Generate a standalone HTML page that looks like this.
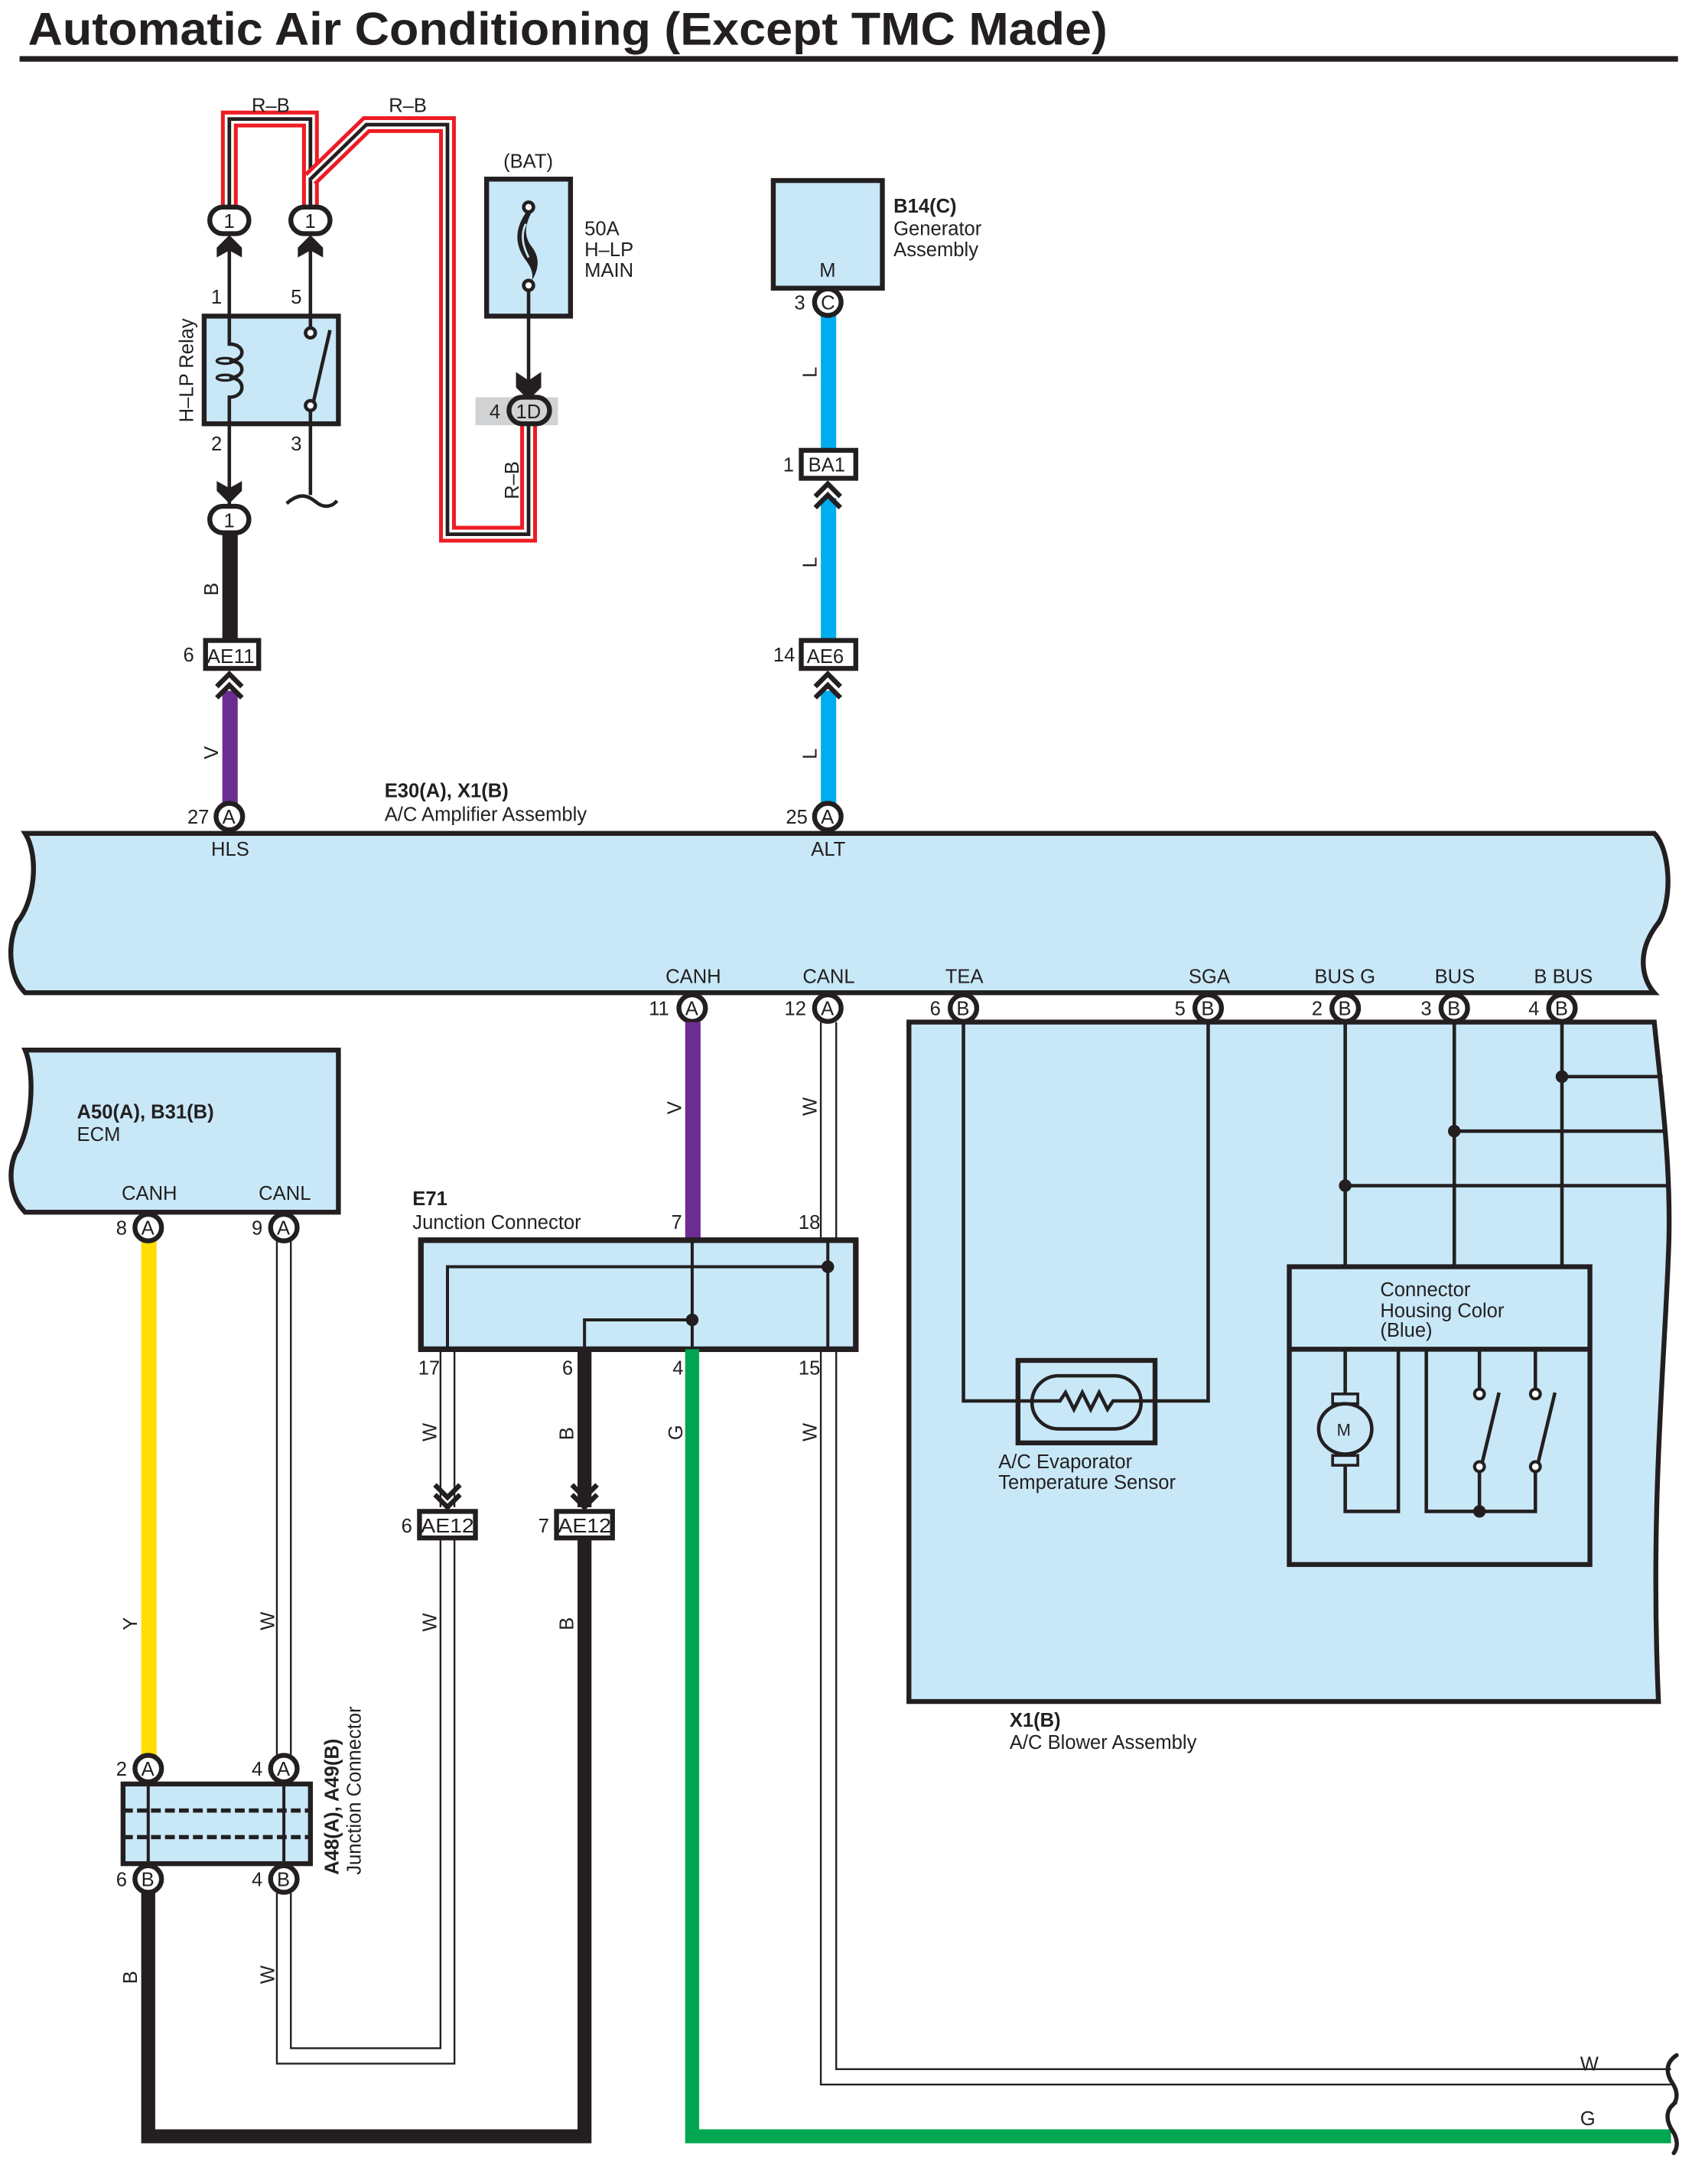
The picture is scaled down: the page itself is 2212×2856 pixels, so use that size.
<!DOCTYPE html>
<html><head><meta charset="utf-8"><style>
html,body{margin:0;padding:0;background:#fff;}
svg{display:block;}
text{font-family:"Liberation Sans",sans-serif;fill:#231f20;}
</style></head><body>
<svg width="2212" height="2856" viewBox="0 0 1210 1562" xmlns="http://www.w3.org/2000/svg">
<defs>
<style>
.lb{font-size:14px;}
.bd{font-size:14px;font-weight:bold;}
.pn{font-size:14px;}
.k{stroke:#231f20;fill:none;}
.box{fill:#c8e8f8;stroke:#231f20;stroke-width:3.5;}
</style>
</defs>
<!-- Title -->
<text x="20" y="32" font-size="33" font-weight="bold" textLength="772" lengthAdjust="spacingAndGlyphs">Automatic Air Conditioning (Except TMC Made)</text>
<rect x="14" y="40" width="1186" height="4" fill="#231f20"/>

<!-- R-B wires -->
<g fill="none" stroke-linejoin="miter">
<path d="M164,148 V85 H222 V148" stroke="#ed1c24" stroke-width="12"/>
<path d="M164,148 V85 H222 V148" stroke="#fff" stroke-width="6.5"/>
<path d="M164,148 V85 H222 V148" stroke="#231f20" stroke-width="2.6"/>
<path d="M222,128 L262,89 H320 V382 H378 V302" stroke="#ed1c24" stroke-width="12"/>
<path d="M222,128 L262,89 H320 V382 H378 V302" stroke="#fff" stroke-width="6.5"/>
<path d="M222,128 L262,89 H320 V382 H378 V302" stroke="#231f20" stroke-width="2.6"/>
</g>
<text class="lb" x="180" y="80">R–B</text>
<text class="lb" x="278" y="80">R–B</text>
<text class="lb" transform="translate(371,357) rotate(-90)">R–B</text>

<!-- relay connector ovals -->
<g stroke="#231f20" stroke-width="3.5" fill="#fff">
<rect x="150" y="148" width="28" height="19" rx="9.5"/>
<rect x="208" y="148" width="28" height="19" rx="9.5"/>
<rect x="150" y="362" width="28" height="19" rx="9.5"/>
</g>
<text class="pn" x="160" y="163">1</text>
<text class="pn" x="218" y="163">1</text>
<text class="pn" x="160" y="377">1</text>
<!-- up arrowheads -->
<g fill="#231f20">
<polygon points="164,168 173,177 173,184 164,179 155,184 155,177"/>
<polygon points="222,168 231,177 231,184 222,179 213,184 213,177"/>
<polygon points="164,360 173,351 173,344 164,349 155,344 155,351"/>
</g>
<!-- relay -->
<path class="k" stroke-width="2.5" d="M164,178 V362 M222,178 V238"/>
<rect class="box" x="146" y="226" width="96" height="77"/>
<path class="k" stroke-width="2.5" d="M164,226 V246 C176,246 176,258 164,258 C176,258 176,270 164,270 C176,270 176,284 164,284 V303"/>
<ellipse cx="161" cy="258" rx="6" ry="2" class="k" stroke-width="1.8"/>
<ellipse cx="161" cy="270" rx="6" ry="2" class="k" stroke-width="1.8"/>
<path class="k" stroke-width="2.5" d="M222,226 V236 M224,288 L236,236 M222,293 V354"/>
<circle cx="222" cy="238" r="3.5" fill="#fff" stroke="#231f20" stroke-width="2.5"/>
<circle cx="222" cy="290" r="3.5" fill="#fff" stroke="#231f20" stroke-width="2.5"/>
<path class="k" stroke-width="2.5" d="M205,360 C214,352 220,354 226,359 C232,364 238,362 241,358"/>
<text class="pn" x="151" y="217">1</text>
<text class="pn" x="208" y="217">5</text>
<text class="pn" x="151" y="322">2</text>
<text class="pn" x="208" y="322">3</text>
<text class="lb" transform="translate(138,302) rotate(-90)">H–LP Relay</text>

<!-- B wire + AE11 -->
<rect x="159" y="381" width="11" height="77" fill="#231f20"/>
<text class="lb" transform="translate(156,426) rotate(-90)">B</text>
<rect x="147" y="458" width="38" height="20" fill="#fff" stroke="#231f20" stroke-width="3.5"/>
<text class="pn" x="148" y="474" textLength="34" lengthAdjust="spacingAndGlyphs">AE11</text>
<text class="pn" x="131" y="473">6</text>
<rect x="159" y="494" width="11" height="82" fill="#6c2c91"/>
<path class="k" stroke-width="3.5" d="M155,491 L164,482 L173,491 M155,499 L164,490 L173,499"/>
<text class="lb" transform="translate(156,543) rotate(-90)">V</text>

<!-- BAT fuse -->
<text class="lb" x="360" y="120">(BAT)</text>
<rect class="box" x="348" y="128" width="60" height="98"/>
<path d="M376,152 C368,164 368,175 376,186 C382,194 382,200 378,204 C384,196 388,186 380,176 C374,168 376,160 380,152 Z" fill="#231f20"/>
<path d="M376,160 C372,168 374,176 378,184" stroke="#c8e8f8" stroke-width="1.5" fill="none"/>
<circle cx="378" cy="148" r="3.5" fill="#fff" stroke="#231f20" stroke-width="2.5"/>
<circle cx="378" cy="204" r="3.5" fill="#fff" stroke="#231f20" stroke-width="2.5"/>
<path class="k" stroke-width="2.5" d="M378,208 V272"/>
<polygon points="378,286 369,277 369,266 378,272 387,266 387,277" fill="#231f20"/>
<text class="lb" x="418" y="168">50A</text>
<text class="lb" x="418" y="183">H–LP</text>
<text class="lb" x="418" y="198">MAIN</text>
<rect x="340" y="284" width="59" height="20" fill="#d1d2d4"/>
<rect x="364" y="284" width="29" height="19" rx="9.5" fill="#d1d2d4" stroke="#231f20" stroke-width="3.5"/>
<text class="pn" x="369" y="299">1D</text>
<text class="pn" x="350" y="299">4</text>

<!-- Generator -->
<rect class="box" x="553" y="129" width="78" height="77"/>
<text class="lb" x="586" y="198">M</text>
<text class="bd" x="639" y="152">B14(C)</text>
<text class="lb" x="639" y="168">Generator</text>
<text class="lb" x="639" y="183">Assembly</text>
<rect x="587" y="225" width="11" height="97" fill="#00aeef"/>
<circle cx="592" cy="216" r="9.5" fill="#fff" stroke="#231f20" stroke-width="3.5"/>
<text class="pn" x="587" y="221">C</text>
<text class="pn" x="568" y="221">3</text>
<text class="lb" transform="translate(584,270) rotate(-90)">L</text>
<rect x="573" y="322" width="39" height="20" fill="#fff" stroke="#231f20" stroke-width="3.5"/>
<text class="pn" x="578" y="337">BA1</text>
<text class="pn" x="560" y="337">1</text>
<rect x="587" y="356" width="11" height="102" fill="#00aeef"/>
<path class="k" stroke-width="3.5" d="M583,355 L592,346 L601,355 M583,363 L592,354 L601,363"/>
<text class="lb" transform="translate(584,406) rotate(-90)">L</text>
<rect x="573" y="458" width="39" height="20" fill="#fff" stroke="#231f20" stroke-width="3.5"/>
<text class="pn" x="577" y="474">AE6</text>
<text class="pn" x="553" y="473">14</text>
<rect x="587" y="494" width="11" height="82" fill="#00aeef"/>
<path class="k" stroke-width="3.5" d="M583,491 L592,482 L601,491 M583,499 L592,490 L601,499"/>
<text class="lb" transform="translate(584,543) rotate(-90)">L</text>

<!-- Amplifier -->
<text class="bd" x="275" y="570">E30(A), X1(B)</text>
<text class="lb" x="275" y="587">A/C Amplifier Assembly</text>
<path class="box" d="M18,596 H1183 C1195,608 1196,645 1186,660 C1170,680 1174,700 1183,710 H18 C8,700 4,680 12,660 C25,645 28,612 18,596 Z"/>
<circle cx="164" cy="584" r="9.5" fill="#fff" stroke="#231f20" stroke-width="3.5"/>
<text class="pn" x="159" y="589">A</text>
<text class="pn" x="134" y="589">27</text>
<circle cx="592" cy="584" r="9.5" fill="#fff" stroke="#231f20" stroke-width="3.5"/>
<text class="pn" x="587" y="589">A</text>
<text class="pn" x="562" y="589">25</text>
<text class="lb" x="151" y="612">HLS</text>
<text class="lb" x="580" y="612">ALT</text>
<text class="lb" x="476" y="703">CANH</text>
<text class="lb" x="574" y="703">CANL</text>
<text class="lb" x="676" y="703">TEA</text>
<text class="lb" x="850" y="703">SGA</text>
<text class="lb" x="940" y="703">BUS G</text>
<text class="lb" x="1026" y="703">BUS</text>
<text class="lb" x="1097" y="703">B BUS</text>

<!-- Blower assembly -->
<path class="box" d="M650,731 H1183 C1188,780 1196,840 1193,900 C1190,980 1180,1080 1186,1217 H650 Z"/>
<text class="bd" x="722" y="1235">X1(B)</text>
<text class="lb" x="722" y="1251">A/C Blower Assembly</text>
<!-- sensor -->
<path class="k" stroke-width="2.5" d="M689,731 V1002 H864 V731"/>
<rect x="728" y="973" width="98" height="59" fill="#c8e8f8" stroke="#231f20" stroke-width="3.5"/>
<rect x="738" y="984" width="78" height="38" rx="19" fill="#c8e8f8" stroke="#231f20" stroke-width="2.5"/>
<path class="k" stroke-width="2.5" d="M728,1002 H758 L762,996 L768,1008 L774,996 L780,1008 L786,996 L792,1008 L796,1002 H826"/>
<text class="lb" x="714" y="1050">A/C Evaporator</text>
<text class="lb" x="714" y="1065">Temperature Sensor</text>
<!-- bus -->
<path class="k" stroke-width="2.5" d="M962,731 V906 M1040,731 V906 M1117,731 V906 M962,848 H1193 M1040,809 H1191 M1117,770 H1189"/>
<circle cx="962" cy="848" r="4.5" fill="#231f20"/>
<circle cx="1040" cy="809" r="4.5" fill="#231f20"/>
<circle cx="1117" cy="770" r="4.5" fill="#231f20"/>
<rect x="922" y="906" width="215" height="213" fill="#c8e8f8" stroke="#231f20" stroke-width="3.5"/>
<path class="k" stroke-width="3.5" d="M922,965 H1137"/>
<text class="lb" x="987" y="927">Connector</text>
<text class="lb" x="987" y="942">Housing Color</text>
<text class="lb" x="987" y="956">(Blue)</text>
<path class="k" stroke-width="2.5" d="M962,965 V1000 M962,1044 V1081 H1000 V965 M1020,965 V1081 H1098 V1052 M1058,965 V993 M1098,965 V993 M1058,1052 V1081 M1060,1046 L1072,996 M1100,1046 L1112,996"/>
<rect x="953" y="997" width="18" height="7" fill="#c8e8f8" stroke="#231f20" stroke-width="2"/>
<rect x="953" y="1041" width="18" height="7" fill="#c8e8f8" stroke="#231f20" stroke-width="2"/>
<ellipse cx="962" cy="1022" rx="19" ry="18" fill="#c8e8f8" stroke="#231f20" stroke-width="2.5"/>
<text x="956" y="1027" font-size="12">M</text>
<g fill="#fff" stroke="#231f20" stroke-width="2.2">
<circle cx="1058" cy="997" r="3.5"/><circle cx="1058" cy="1049" r="3.5"/>
<circle cx="1098" cy="997" r="3.5"/><circle cx="1098" cy="1049" r="3.5"/>
</g>
<circle cx="1058" cy="1081" r="4.5" fill="#231f20"/>
<!-- pins on amplifier bottom -->
<g fill="#fff" stroke="#231f20" stroke-width="3.5">
<circle cx="495" cy="721" r="9.5"/><circle cx="592" cy="721" r="9.5"/>
<circle cx="689" cy="721" r="9.5"/><circle cx="864" cy="721" r="9.5"/>
<circle cx="962" cy="721" r="9.5"/><circle cx="1040" cy="721" r="9.5"/>
<circle cx="1117" cy="721" r="9.5"/>
</g>
<text class="pn" x="490" y="726">A</text><text class="pn" x="464" y="726">11</text>
<text class="pn" x="587" y="726">A</text><text class="pn" x="561" y="726">12</text>
<text class="pn" x="684" y="726">B</text><text class="pn" x="665" y="726">6</text>
<text class="pn" x="859" y="726">B</text><text class="pn" x="840" y="726">5</text>
<text class="pn" x="957" y="726">B</text><text class="pn" x="938" y="726">2</text>
<text class="pn" x="1035" y="726">B</text><text class="pn" x="1016" y="726">3</text>
<text class="pn" x="1112" y="726">B</text><text class="pn" x="1093" y="726">4</text>

<!-- CANH purple -->
<rect x="490" y="731" width="11" height="156" fill="#6c2c91"/>
<text class="lb" transform="translate(487,797) rotate(-90)">V</text>
<!-- CANL W wire -->
<path class="k" stroke-width="1.3" d="M587,731 V886 M598,731 V886 M587,965 V1491 H1195 M598,965 V1480 H1195"/>
<text class="lb" transform="translate(584,798) rotate(-90)">W</text>
<text class="lb" transform="translate(584,1031) rotate(-90)">W</text>
<text class="lb" x="1130" y="1481">W</text>
<text class="lb" x="1130" y="1520">G</text>

<!-- E71 -->
<text class="bd" x="295" y="862">E71</text>
<text class="lb" x="295" y="879">Junction Connector</text>
<text class="pn" x="480" y="879">7</text>
<text class="pn" x="571" y="879">18</text>
<rect x="301" y="887" width="311" height="78" fill="#c8e8f8" stroke="#231f20" stroke-width="4"/>
<path class="k" stroke-width="2.2" d="M495,887 V965 M592,887 V965 M320,965 V906 H592 M418,965 V944 H495"/>
<circle cx="592" cy="906" r="4.5" fill="#231f20"/>
<circle cx="495" cy="944" r="4.5" fill="#231f20"/>
<text class="pn" x="299" y="983">17</text>
<text class="pn" x="402" y="983">6</text>
<text class="pn" x="481" y="983">4</text>
<text class="pn" x="571" y="983">15</text>
<!-- W 17 -->
<path class="k" stroke-width="1.3" d="M315,965 V1078 M325,965 V1078 M315,1100 V1465 H208 V1354 M325,1100 V1476 H198 V1354"/>
<path class="k" stroke-width="3.5" d="M311,1062 L320,1071 L329,1062 M311,1069 L320,1078 L329,1069"/>
<text class="lb" transform="translate(312,1031) rotate(-90)">W</text>
<text class="lb" transform="translate(312,1167) rotate(-90)">W</text>
<rect x="300" y="1081" width="40" height="19" fill="#fff" stroke="#231f20" stroke-width="3.5"/>
<text class="pn" x="301" y="1096" textLength="38" lengthAdjust="spacingAndGlyphs">AE12</text>
<text class="pn" x="287" y="1096">6</text>
<!-- B 6 -->
<path d="M418,965 V1078 M418,1100 V1528 H106 V1354" stroke="#231f20" stroke-width="10" fill="none" stroke-linejoin="miter"/>
<path class="k" stroke-width="3.5" d="M409,1062 L418,1071 L427,1062 M409,1069 L418,1078 L427,1069"/>
<text class="lb" transform="translate(410,1030) rotate(-90)">B</text>
<text class="lb" transform="translate(410,1166) rotate(-90)">B</text>
<rect x="398" y="1081" width="40" height="19" fill="#fff" stroke="#231f20" stroke-width="3.5"/>
<text class="pn" x="399" y="1096" textLength="38" lengthAdjust="spacingAndGlyphs">AE12</text>
<text class="pn" x="385" y="1096">7</text>
<!-- G -->
<path d="M495,965 V1528 H1195" stroke="#00a651" stroke-width="10" fill="none" stroke-linejoin="miter"/>
<text class="lb" transform="translate(488,1030) rotate(-90)">G</text>
<!-- squiggles -->
<path class="k" stroke-width="3" stroke-linecap="round" d="M1199,1470 C1190,1476 1192,1484 1196,1490 C1200,1496 1200,1502 1196,1506 M1198,1504 C1190,1510 1192,1518 1196,1524 C1200,1530 1200,1536 1197,1540"/>

<!-- ECM -->
<path class="box" d="M18,751 H242 V867 H18 C8,857 5,840 11,825 C22,810 26,770 18,751 Z"/>
<text class="bd" x="55" y="800">A50(A), B31(B)</text>
<text class="lb" x="55" y="816">ECM</text>
<text class="lb" x="87" y="858">CANH</text>
<text class="lb" x="185" y="858">CANL</text>
<rect x="101" y="887" width="11" height="369" fill="#ffde00"/>
<path class="k" stroke-width="1.3" d="M198,887 V1255 M208,887 V1255"/>
<text class="lb" transform="translate(98,1166) rotate(-90)">Y</text>
<text class="lb" transform="translate(196,1166) rotate(-90)">W</text>
<text class="lb" transform="translate(98,1419) rotate(-90)">B</text>
<text class="lb" transform="translate(196,1419) rotate(-90)">W</text>
<!-- A48 -->
<rect x="88" y="1276" width="134" height="57" fill="#c8e8f8" stroke="#231f20" stroke-width="3.5"/>
<path class="k" stroke-width="2.2" d="M106,1276 V1333 M203,1276 V1333"/>
<path class="k" stroke-width="3" stroke-dasharray="7,3" d="M88,1295 H222 M88,1314 H222"/>
<text class="bd" transform="translate(242,1341) rotate(-90)">A48(A), A49(B)</text>
<text class="lb" transform="translate(258,1341) rotate(-90)">Junction Connector</text>
<g fill="#fff" stroke="#231f20" stroke-width="3.5">
<circle cx="106" cy="878" r="9.5"/><circle cx="203" cy="878" r="9.5"/>
<circle cx="106" cy="1265" r="9.5"/><circle cx="203" cy="1265" r="9.5"/>
<circle cx="106" cy="1344" r="9.5"/><circle cx="203" cy="1344" r="9.5"/>
</g>
<text class="pn" x="101" y="883">A</text><text class="pn" x="83" y="883">8</text>
<text class="pn" x="198" y="883">A</text><text class="pn" x="180" y="883">9</text>
<text class="pn" x="101" y="1270">A</text><text class="pn" x="83" y="1270">2</text>
<text class="pn" x="198" y="1270">A</text><text class="pn" x="180" y="1270">4</text>
<text class="pn" x="101" y="1349">B</text><text class="pn" x="83" y="1349">6</text>
<text class="pn" x="198" y="1349">B</text><text class="pn" x="180" y="1349">4</text>
</svg>
</body></html>
